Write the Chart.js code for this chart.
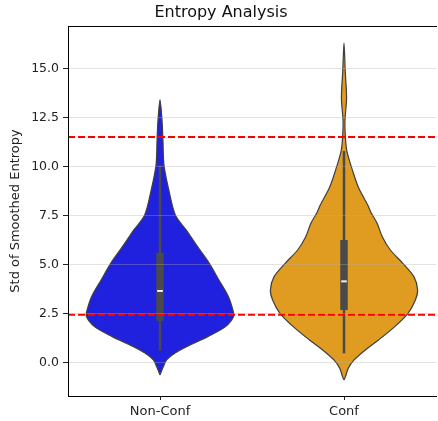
<!DOCTYPE html>
<html>
<head>
<meta charset="utf-8">
<script src="https://cdn.jsdelivr.net/npm/chart.js@4/dist/chart.umd.min.js"></script>
<style>
  html, body { margin: 0; padding: 0; background: #fff; overflow: hidden; }
  #wrap { width: 442px; height: 421px; }
</style>
</head>
<body>
<div id="wrap"><canvas id="chart"></canvas></div>
<script>
// categories and tick labels
var categories = ["Non-Conf", "Conf"];
var yTicks = [0, 2.5, 5, 7.5, 10, 12.5, 15];

// violin outlines: value and relative density (1 = widest)
var nonConfValues  = [-0.65, -0.22, 0.12, 0.46, 0.8, 1.31, 1.82, 2.33, 2.67, 3.35, 4.2, 5.05, 5.9, 6.73, 7.5, 8.79, 10.07, 11.34, 12.37, 13.39];
var nonConfDensity = [0, 0.046, 0.09, 0.2, 0.36, 0.65, 0.89, 1.0, 0.99, 0.93, 0.8, 0.67, 0.51, 0.36, 0.21, 0.12, 0.054, 0.04, 0.027, 0];
var confValues  = [-0.9, -0.73, -0.31, 0.12, 0.63, 1.14, 1.82, 2.5, 3.18, 3.69, 4.37, 5.05, 5.73, 6.41, 7.09, 7.62, 8.04, 8.89, 9.74, 10.76, 11.44, 12.3, 13.48, 14.85, 16.29];
var confDensity = [0, 0.02, 0.057, 0.137, 0.29, 0.47, 0.69, 0.87, 0.97, 1.0, 0.95, 0.8, 0.63, 0.52, 0.45, 0.37, 0.32, 0.2, 0.12, 0.04, 0.02, 0.013, 0.035, 0.017, 0];

// box stats: lower whisker, q1, median, q3, upper whisker
var nonConfBox = [0.59, 2.12, 3.64, 5.59, 10.07];
var confBox = [0.46, 2.67, 4.13, 6.24, 10.78];

// red dashed reference lines
var thresholds = [11.5, 2.43];

var violinColors = ["#2020df", "#df9c20"];
var halfWidth = 0.4;

function violinPoints(center, values, density) {
    var pts = [];
    for (var i = 0; i < values.length; i++) {
        pts.push({ x: center - density[i] * halfWidth, y: values[i] });
    }
    for (var j = values.length - 2; j >= 0; j--) {
        pts.push({ x: center + density[j] * halfWidth, y: values[j] });
    }
    return pts;
}

var datasets = [];
var violins = [[nonConfValues, nonConfDensity], [confValues, confDensity]];
var boxes = [nonConfBox, confBox];

violins.forEach(function (v, i) {
    datasets.push({
        data: violinPoints(i, v[0], v[1]),
        showLine: true,
        fill: "shape",
        backgroundColor: violinColors[i],
        borderColor: "#3f3f3f",
        borderWidth: 1.2,
        tension: 0.3,
        pointRadius: 0,
        order: 10
    });
});

boxes.forEach(function (b, i) {
    datasets.push({
        data: [{ x: i, y: b[0] }, { x: i, y: b[4] }],
        showLine: true,
        borderColor: "#4a4a4a",
        borderWidth: 2.5,
        borderCapStyle: "butt",
        pointRadius: 0,
        order: 8
    });
    datasets.push({
        data: [{ x: i, y: b[1] }, { x: i, y: b[3] }],
        showLine: true,
        borderColor: "#4a4a4a",
        borderWidth: 7.5,
        borderCapStyle: "butt",
        pointRadius: 0,
        order: 7
    });
    datasets.push({
        data: [{ x: i, y: b[2] }],
        showLine: false,
        pointStyle: "line",
        pointRadius: 2.8,
        pointBorderWidth: 2,
        pointBorderColor: "#f2f2f2",
        order: 6
    });
});

thresholds.forEach(function (t) {
    datasets.push({
        data: [{ x: -0.5, y: t }, { x: 1.5, y: t }],
        showLine: true,
        borderColor: "#ff0000",
        borderWidth: 2,
        borderDash: [7, 3],
        pointRadius: 0,
        order: 1
    });
});

var font = "'DejaVu Sans', sans-serif";

var chart = new Chart(document.getElementById("chart"), {
    type: "scatter",
    data: { datasets: datasets },
    options: {
        responsive: true,
        maintainAspectRatio: false,
        animation: false,
        layout: { padding: { left: 0, right: 0, top: 0, bottom: 0 } },
        scales: {
            x: {
                type: "linear",
                min: -0.5,
                max: 1.5,
                afterBuildTicks: function (s) {
                    s.ticks = categories.map(function (c, i) { return { value: i }; });
                },
                afterFit: function (s) { s.height = 25; },
                grid: {
                    drawOnChartArea: false,
                    drawTicks: true,
                    tickLength: 4,
                    tickColor: "#222222"
                },
                border: { display: true, color: "#000000", width: 1 },
                ticks: {
                    padding: 4,
                    color: "#222222",
                    font: { family: font, size: 13 },
                    callback: function (v) { return categories[v]; }
                }
            },
            xTop: {
                type: "linear",
                position: "top",
                min: -0.5,
                max: 1.5,
                afterFit: function (s) { s.height = 0; },
                grid: { display: false },
                ticks: { display: false },
                border: { display: true, color: "#000000", width: 1 }
            },
            y: {
                type: "linear",
                min: -1.72,
                max: 17.16,
                afterBuildTicks: function (s) {
                    s.ticks = yTicks.map(function (v) { return { value: v }; });
                },
                afterFit: function (s) { s.width = 68; },
                grid: {
                    z: 1,
                    color: "rgba(176,176,176,0.35)",
                    lineWidth: 1,
                    drawTicks: true,
                    tickLength: 5,
                    tickColor: "#222222"
                },
                border: { display: true, color: "#000000", width: 1, z: 2 },
                ticks: {
                    padding: 4,
                    color: "#222222",
                    font: { family: font, size: 12.5 },
                    callback: function (v) { return v.toFixed(1); }
                },
                title: {
                    display: true,
                    text: "Std of Smoothed Entropy",
                    color: "#222222",
                    font: { family: font, size: 13 },
                    padding: { top: 8, bottom: 0 }
                }
            }
        },
        plugins: {
            legend: { display: false },
            tooltip: { enabled: false },
            title: {
                display: true,
                text: "Entropy Analysis",
                color: "#111111",
                font: { family: font, size: 16, weight: "normal" },
                padding: { top: 3, bottom: 3.8 }
            }
        }
    }
});
</script>
</body>
</html>
